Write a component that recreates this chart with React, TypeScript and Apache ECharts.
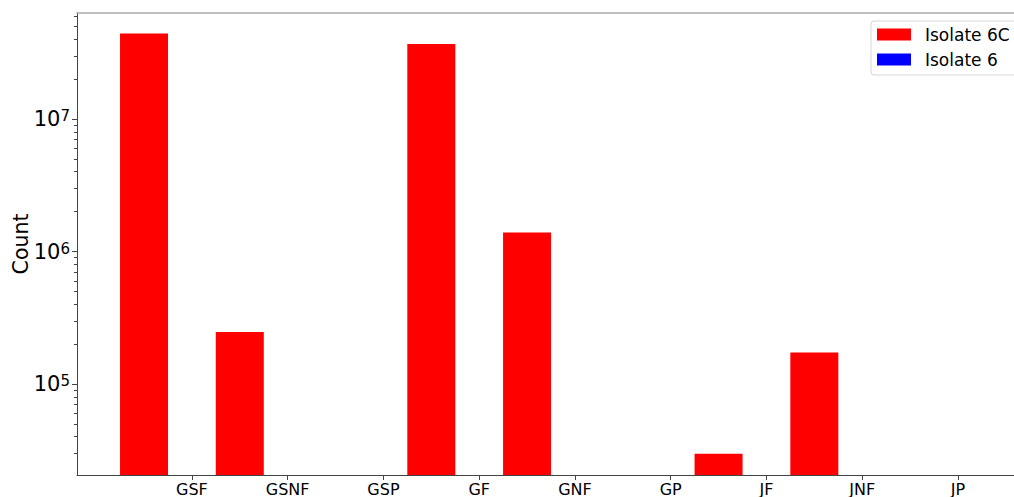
import React, { useEffect, useRef } from "react";
import * as echarts from "echarts";

const categories = ["GSF", "GSNF", "GSP", "GF", "GNF", "GP", "JF", "JNF", "JP"];
const isolate6C = [4.41e7, 2.47e5, 0, 3.68e7, 1.39e6, 0, 2.97e4, 1.73e5, 0];
const isolate6 = [0, 0, 0, 0, 0, 0, 0, 0, 0];
const xTickValues = [0, 1, 2, 3, 4, 5, 6, 7, 8];
const yMajorTicks = [1e5, 1e6, 1e7];
const yMinorTicks = [
  3e4, 4e4, 5e4, 6e4, 7e4, 8e4, 9e4,
  2e5, 3e5, 4e5, 5e5, 6e5, 7e5, 8e5, 9e5,
  2e6, 3e6, 4e6, 5e6, 6e6, 7e6, 8e6, 9e6,
  2e7, 3e7, 4e7, 5e7, 6e7,
];
const yMin = 2.057e4;
const yMax = 6.31e7;
const xMin = -1.2;
const xMax = 8.7;

const FONT = "DejaVu Sans";

export default function App() {
  const ref = useRef<HTMLDivElement>(null);
  useEffect(() => {
    if (!ref.current) return;
    const chart = echarts.init(ref.current, undefined, { renderer: "svg" });
    const toBar = (vals: number[], offset: number) =>
      vals.map((v, i) => [i + offset, v > 0 ? v : null]);
    chart.setOption({
      animation: false,
      backgroundColor: "#ffffff",
      textStyle: { fontFamily: FONT },
      grid: { left: 77, top: 13, width: 948, height: 462, outerBoundsMode: "none", containLabel: false },
      legend: {
        orient: "vertical",
        left: 871,
        top: 21,
        padding: [5, 14, 7, 6],
        itemWidth: 34,
        itemHeight: 12,
        itemGap: 8,
        icon: "rect",
        borderColor: "#d5d5d5",
        borderWidth: 1,
        borderRadius: 3,
        backgroundColor: "#ffffff",
        textStyle: { fontFamily: FONT, fontSize: 17, color: "#000", padding: [0, 0, 0, 9] },
        data: ["Isolate 6C", "Isolate 6"],
      },
      xAxis: [
        {
          type: "value",
          min: xMin,
          max: xMax,
          splitLine: { show: false },
          axisLine: { show: true, onZero: false, lineStyle: { color: "#444", width: 1 } },
          axisTick: { show: true, length: 5, lineStyle: { color: "#444" }, customValues: xTickValues },
          axisLabel: {
            customValues: xTickValues,
            margin: 6,
            fontSize: 16,
            fontFamily: FONT,
            color: "#000",
            formatter: (v: number) => categories[Math.round(v)] ?? "",
          },
        },
        {
          type: "value",
          position: "top",
          min: xMin,
          max: xMax,
          splitLine: { show: false },
          axisLine: { show: true, onZero: false, lineStyle: { color: "#aaa", width: 1.5 } },
          axisTick: { show: false },
          axisLabel: { show: false },
        },
      ],
      yAxis: [
        {
          type: "log",
          logBase: 10,
          min: yMin,
          max: yMax,
          position: "left",
          name: "Count",
          nameLocation: "middle",
          nameRotate: 90,
          nameGap: 46,
          nameMoveOverlap: false,
          nameTextStyle: { fontFamily: FONT, fontSize: 20.5, color: "#000" },
          splitLine: { show: false },
          axisLine: { show: true, onZero: false, lineStyle: { color: "#444", width: 1 } },
          axisTick: { show: true, length: 5, lineStyle: { color: "#444" }, customValues: yMajorTicks },
          axisLabel: {
            customValues: yMajorTicks,
            margin: 7,
            fontFamily: FONT,
            color: "#000",
            formatter: (v: number) => "{b|10}{s|" + Math.round(Math.log10(v)) + "}",
            rich: {
              b: { fontSize: 21, fontFamily: FONT, color: "#000" },
              s: { fontSize: 15, fontFamily: FONT, color: "#000", verticalAlign: "top" },
            },
          },
        },
        {
          type: "log",
          logBase: 10,
          min: yMin,
          max: yMax,
          position: "left",
          splitLine: { show: false },
          axisLine: { show: false, onZero: false },
          axisTick: { show: true, length: 3, lineStyle: { color: "#444" }, customValues: yMinorTicks },
          axisLabel: { show: false },
        },
      ],
      series: [
        {
          name: "Isolate 6C",
          type: "bar",
          xAxisIndex: 0,
          yAxisIndex: 0,
          barWidth: 48,
          barGap: "-100%",
          itemStyle: { color: "#ff0000" },
          data: toBar(isolate6C, -0.5),
        },
        {
          name: "Isolate 6",
          type: "bar",
          xAxisIndex: 0,
          yAxisIndex: 0,
          barWidth: 48,
          barGap: "-100%",
          itemStyle: { color: "#0000ff" },
          data: toBar(isolate6, 0),
        },
      ],
    });
    return () => chart.dispose();
  }, []);
  return <div ref={ref} style={{ width: 1014, height: 497, position: "absolute", left: 0, top: 0 }} />;
}
